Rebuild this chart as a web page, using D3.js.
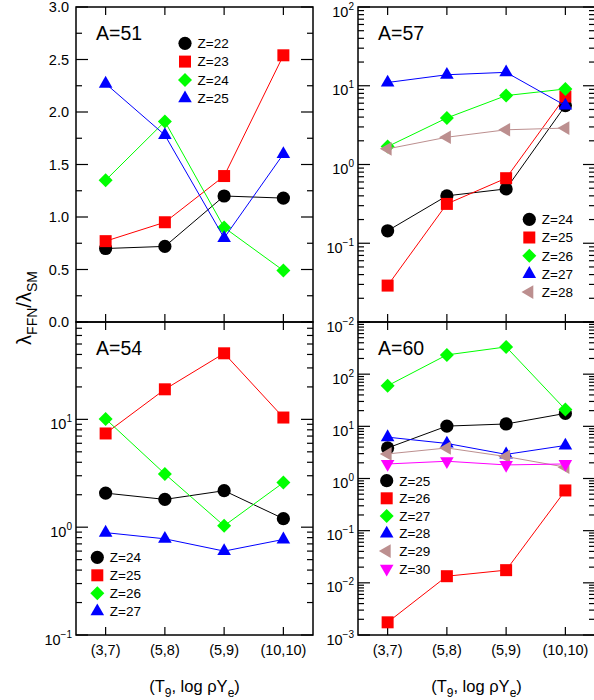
<!DOCTYPE html>
<html>
<head>
<meta charset="utf-8">
<script src="https://cdn.jsdelivr.net/npm/d3@7/dist/d3.min.js"></script>
<style>
  html, body { margin: 0; padding: 0; background: #fff; }
  svg { display: block; font-family: "Liberation Sans", Arial, Helvetica, sans-serif; }
</style>
</head>
<body>
<svg id="chart" width="594" height="700"></svg>
<script>
// ---------------- data ----------------
const categories = ["(3,7)", "(5,8)", "(5,9)", "(10,10)"];

const a51Labels = ["Z=22", "Z=23", "Z=24", "Z=25"];
const a51Z22 = [0.70, 0.72, 1.20, 1.18];
const a51Z23 = [0.77, 0.95, 1.39, 2.54];
const a51Z24 = [1.35, 1.91, 0.90, 0.49];
const a51Z25 = [2.27, 1.78, 0.80, 1.60];

const a57Labels = ["Z=24", "Z=25", "Z=26", "Z=27", "Z=28"];
const a57Z24 = [0.144, 0.40, 0.49, 5.6];
const a57Z25 = [0.029, 0.316, 0.67, 7.3];
const a57Z26 = [1.69, 3.9, 7.5, 9.1];
const a57Z27 = [11.0, 13.8, 14.8, 5.6];
const a57Z28 = [1.58, 2.22, 2.76, 2.9];

const a54Labels = ["Z=24", "Z=25", "Z=26", "Z=27"];
const a54Z24 = [2.07, 1.81, 2.18, 1.20];
const a54Z25 = [7.4, 19.0, 41.0, 10.4];
const a54Z26 = [10.1, 3.12, 1.03, 2.59];
const a54Z27 = [0.89, 0.78, 0.60, 0.77];

const a60Labels = ["Z=25", "Z=26", "Z=27", "Z=28", "Z=29", "Z=30"];
const a60Z25 = [3.85, 10.1, 11.1, 17.7];
const a60Z26 = [0.00175, 0.0134, 0.0175, 0.59];
const a60Z27 = [60, 234, 333, 21];
const a60Z28 = [6.2, 4.7, 2.9, 4.3];
const a60Z29 = [2.96, 3.85, 2.63, 1.65];
const a60Z30 = [1.9, 2.14, 1.82, 1.9];

const yLinearTicks = [0.0, 0.5, 1.0, 1.5, 2.0, 2.5, 3.0];
const yTitle = ["λ", "FFN", "/λ", "SM"];
const xTitle = ["(T", "9", ", log ρY", "e", ")"];

// ---------------- styles ----------------
const styles = [
  { shape: "circle",   color: "#000000" },
  { shape: "square",   color: "#ff0000" },
  { shape: "diamond",  color: "#00ff00" },
  { shape: "triUp",    color: "#0000ff" },
  { shape: "triLeft",  color: "#bc8f8f" },
  { shape: "triDown",  color: "#ff00ff" }
];

function markerPath(shape) {
  const p = d3.path();
  if (shape === "circle") { p.arc(0, 0, 6.6, 0, 2 * Math.PI); }
  else if (shape === "square") { p.rect(-6, -6, 12, 12); }
  else if (shape === "diamond") { p.moveTo(0, -7); p.lineTo(7, 0); p.lineTo(0, 7); p.lineTo(-7, 0); p.closePath(); }
  else if (shape === "triUp") { p.moveTo(0, -7.8); p.lineTo(6.8, 4); p.lineTo(-6.8, 4); p.closePath(); }
  else if (shape === "triDown") { p.moveTo(0, 7.8); p.lineTo(6.8, -4); p.lineTo(-6.8, -4); p.closePath(); }
  else if (shape === "triLeft") { p.moveTo(-7.8, 0); p.lineTo(4, -6.8); p.lineTo(4, 6.8); p.closePath(); }
  return p.toString();
}

const svg = d3.select("#chart");
const W = 237;
const colX = [76, 358];

const panels = [
  { title: "A=51", labels: a51Labels, series: [a51Z22, a51Z23, a51Z24, a51Z25], styleIdx: [0,1,2,3],
    x0: colX[0], y0: 7, y1: 322, type: "lin", domain: [0, 3], showTopLabel: true,
    legend: { x: 185, y: 43.3, dy: 18.3 } },
  { title: "A=57", labels: a57Labels, series: [a57Z24, a57Z25, a57Z26, a57Z27, a57Z28], styleIdx: [0,1,2,3,4],
    x0: colX[1], y0: 7, y1: 322, type: "log", domain: [1e-2, 1e2], showTopLabel: true,
    legend: { x: 529.3, y: 219.3, dy: 18.2 } },
  { title: "A=54", labels: a54Labels, series: [a54Z24, a54Z25, a54Z26, a54Z27], styleIdx: [0,1,2,3],
    x0: colX[0], y0: 322, y1: 635, type: "log", domain: [0.1, 80], showTopLabel: false,
    legend: { x: 97.3, y: 557.3, dy: 18 } },
  { title: "A=60", labels: a60Labels, series: [a60Z25, a60Z26, a60Z27, a60Z28, a60Z29, a60Z30], styleIdx: [0,1,2,3,4,5],
    x0: colX[1], y0: 322, y1: 635, type: "log", domain: [1e-3, 1e3], showTopLabel: false,
    legend: { x: 386.7, y: 480.7, dy: 17.6 } }
];

function drawPanel(P) {
  const g = svg.append("g");
  const x = d3.scalePoint().domain(categories).range([P.x0, P.x0 + W]).padding(0.5);
  const y = (P.type === "lin" ? d3.scaleLinear() : d3.scaleLog()).domain(P.domain).range([P.y1, P.y0]);

  // ticks
  let majors = [], minors = [];
  if (P.type === "lin") {
    majors = yLinearTicks;
    minors = d3.range(0.25, 3, 0.5);
  } else {
    const lo = Math.round(Math.log10(P.domain[0]));
    const hi = Math.floor(Math.log10(P.domain[1]) + 1e-9);
    for (let e = lo; e <= hi; e++) majors.push(Math.pow(10, e));
    for (let e = lo; e <= hi; e++) for (let k = 2; k <= 9; k++) {
      const v = k * Math.pow(10, e);
      if (v <= P.domain[1] * 1.0001) minors.push(v);
    }
  }
  const tg = g.append("g").attr("stroke", "#000").attr("stroke-width", 1.2);
  const xr = P.x0 + W;
  majors.forEach(v => {
    const yy = y(v);
    tg.append("line").attr("x1", P.x0).attr("x2", P.x0 + 12).attr("y1", yy).attr("y2", yy);
    tg.append("line").attr("x1", xr).attr("x2", xr - 12).attr("y1", yy).attr("y2", yy);
  });
  minors.forEach(v => {
    const yy = y(v);
    tg.append("line").attr("x1", P.x0).attr("x2", P.x0 + 6).attr("y1", yy).attr("y2", yy);
    tg.append("line").attr("x1", xr).attr("x2", xr - 6).attr("y1", yy).attr("y2", yy);
  });
  categories.forEach(c => {
    const xx = x(c);
    tg.append("line").attr("x1", xx).attr("x2", xx).attr("y1", P.y1).attr("y2", P.y1 - 8);
    tg.append("line").attr("x1", xx).attr("x2", xx).attr("y1", P.y0).attr("y2", P.y0 + 8);
  });

  // tick labels
  majors.forEach(v => {
    const yy = y(v);
    if (!P.showTopLabel && Math.abs(yy - P.y0) < 1) return;
    if (P.type === "lin") {
      g.append("text").attr("x", P.x0 - 7).attr("y", yy + 5).attr("text-anchor", "end")
        .attr("font-size", 14.5).text(d3.format(".1f")(v));
    } else {
      const e = Math.round(Math.log10(v));
      const t = g.append("text").attr("x", P.x0 - 4).attr("y", yy + 9.5).attr("text-anchor", "end")
        .attr("font-size", 14.5);
      t.append("tspan").text("10");
      t.append("tspan").attr("dy", -7).attr("font-size", 10).text(e < 0 ? "−" + (-e) : String(e));
    }
  });

  // frame
  g.append("rect").attr("x", P.x0).attr("y", P.y0).attr("width", W).attr("height", P.y1 - P.y0)
    .attr("fill", "none").attr("stroke", "#000").attr("stroke-width", 1.5);

  // series
  P.series.forEach((vals, i) => {
    const st = styles[P.styleIdx[i]];
    const pts = vals.map((v, j) => [x(categories[j]), y(v)]);
    g.append("path").attr("d", d3.line()(pts)).attr("fill", "none")
      .attr("stroke", st.color).attr("stroke-width", 1);
    g.selectAll(null).data(pts).enter().append("path")
      .attr("d", markerPath(st.shape))
      .attr("transform", d => `translate(${d[0]},${d[1]})`)
      .attr("fill", st.color);
  });

  // legend
  P.labels.forEach((lab, i) => {
    const st = styles[P.styleIdx[i]];
    const ly = P.legend.y + i * P.legend.dy;
    g.append("path").attr("d", markerPath(st.shape))
      .attr("transform", `translate(${P.legend.x},${ly})`).attr("fill", st.color);
    g.append("text").attr("x", P.legend.x + 12.5).attr("y", ly + 4.8)
      .attr("font-size", 13.5).text(lab);
  });

  // panel title
  g.append("text").attr("x", P.x0 + 20).attr("y", P.y0 + 33).attr("font-size", 19.5).text(P.title);

  return x;
}

const xs = panels.map(drawPanel);

// x tick labels (bottom row)
[xs[2], xs[3]].forEach(x => {
  categories.forEach(c => {
    svg.append("text").attr("x", x(c)).attr("y", 655).attr("text-anchor", "middle")
      .attr("font-size", 14.5).text(c);
  });
});

// x titles
colX.forEach(cx => {
  const t = svg.append("text").attr("x", cx + W / 2).attr("y", 692).attr("text-anchor", "middle")
    .attr("font-size", 16.5);
  t.append("tspan").text(xTitle[0]);
  t.append("tspan").attr("dy", 5).attr("font-size", 12).text(xTitle[1]);
  t.append("tspan").attr("dy", -5).text(xTitle[2]);
  t.append("tspan").attr("dy", 5).attr("font-size", 12).text(xTitle[3]);
  t.append("tspan").attr("dy", -5).text(xTitle[4]);
});

// y title
const yt = svg.append("text").attr("transform", "translate(31,308) rotate(-90)")
  .attr("text-anchor", "middle").attr("font-size", 20);
yt.append("tspan").text(yTitle[0]);
yt.append("tspan").attr("dy", 6).attr("font-size", 14).text(yTitle[1]);
yt.append("tspan").attr("dy", -6).text(yTitle[2]);
yt.append("tspan").attr("dy", 6).attr("font-size", 14).text(yTitle[3]);
</script>
</body>
</html>
